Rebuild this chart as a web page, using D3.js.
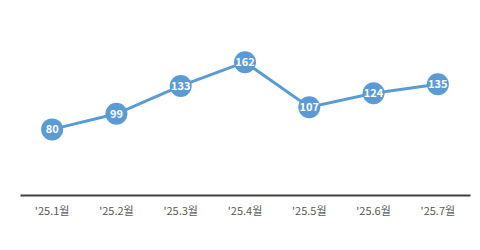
<!DOCTYPE html>
<html>
<head>
<meta charset="utf-8">
<script src="https://cdn.jsdelivr.net/npm/d3@7"></script>
<style>
  html, body { margin: 0; padding: 0; background: #fff; }
  svg text { font-family: "Noto Sans CJK KR", "Noto Sans", sans-serif; }
</style>
</head>
<body>
<div id="chart"></div>
<script>
var months = ["'25.1월", "'25.2월", "'25.3월", "'25.4월", "'25.5월", "'25.6월", "'25.7월"];
var values = [80, 99, 133, 162, 107, 124, 135];

var width = 480, height = 250;
var svg = d3.select('#chart').append('svg')
    .attr('width', width)
    .attr('height', height);

var x = d3.scaleBand().domain(months).range([20, 470]);
var y = d3.scaleLinear().domain([0, 200]).range([195, 31]);

// category axis
var axis = svg.append('g')
    .attr('transform', 'translate(0,195)')
    .call(d3.axisBottom(x).tickSize(0).tickPadding(12));
axis.select('.domain')
    .attr('stroke', '#404040')
    .attr('stroke-width', 2);
axis.selectAll('.tick text')
    .attr('fill', '#595959')
    .style('font-size', '11px');

var pts = months.map(function(m, i) {
  return { m: m, v: values[i] };
});

var line = d3.line()
    .x(function(d) { return x(d.m) + x.bandwidth() / 2; })
    .y(function(d) { return y(d.v); });

svg.append('path')
    .datum(pts)
    .attr('d', line)
    .attr('fill', 'none')
    .attr('stroke', '#5B9BD5')
    .attr('stroke-width', 3);

var dots = svg.selectAll('g.pt')
    .data(pts)
  .enter().append('g')
    .attr('class', 'pt')
    .attr('transform', function(d) {
      return 'translate(' + (x(d.m) + x.bandwidth() / 2) + ',' + y(d.v) + ')';
    });

dots.append('circle')
    .attr('r', 11)
    .attr('fill', '#5B9BD5');

dots.append('text')
    .attr('text-anchor', 'middle')
    .attr('dy', '0.36em')
    .attr('fill', '#fff')
    .style('font-size', '11px')
    .style('font-weight', 'bold')
    .text(function(d) { return d.v; });
</script>
</body>
</html>
